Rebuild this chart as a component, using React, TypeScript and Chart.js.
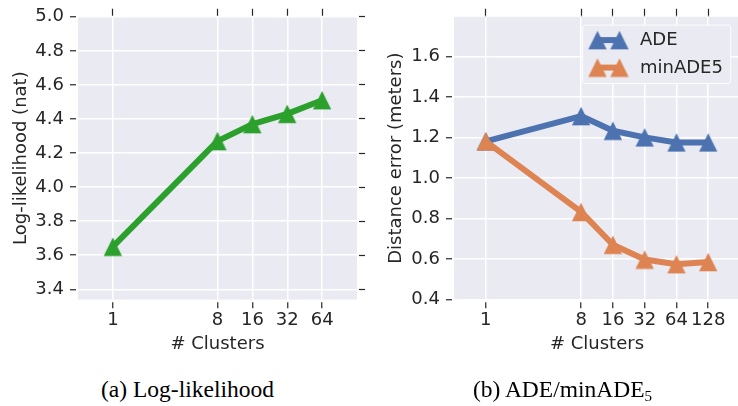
import React, { useEffect, useRef } from 'react';
import { Chart, registerables } from 'chart.js';

Chart.register(...registerables);

// ---------- data ----------
const llClusters = [1, 8, 16, 32, 64];
const llValues = [3.65, 4.27, 4.37, 4.43, 4.51];
const llYTicks = [3.4, 3.6, 3.8, 4.0, 4.2, 4.4, 4.6, 4.8, 5.0];

const errClusters = [1, 8, 16, 32, 64, 128];
const adeValues = [1.18, 1.305, 1.233, 1.2, 1.175, 1.175];
const minAde5Values = [1.18, 0.832, 0.67, 0.597, 0.574, 0.585];
const errYTicks = [0.4, 0.6, 0.8, 1.0, 1.2, 1.4, 1.6];

const seriesLabels = ['ADE', 'minADE5'];

// ---------- style ----------
const FONT = "'DejaVu Sans', sans-serif";
const TEXT = '#262626';
const BG = '#eaeaf2';
const GREEN = '#2ca02c';
const BLUE = '#4c72b0';
const ORANGE = '#dd8452';
const FS = 18;

function makeTriangle(color: string, size = 18.3) {
  const c = document.createElement('canvas');
  const n = 20;
  c.width = n;
  c.height = n;
  const g = c.getContext('2d')!;
  const h = size / 2;
  const m = n / 2;
  g.fillStyle = color;
  g.beginPath();
  g.moveTo(m, m - h);
  g.lineTo(m - h, m + h);
  g.lineTo(m + h, m + h);
  g.closePath();
  g.fill();
  return c;
}

const bgPlugin = {
  id: 'bgArea',
  beforeDraw(chart: any) {
    const { ctx, chartArea: a } = chart;
    ctx.save();
    ctx.fillStyle = BG;
    ctx.fillRect(a.left, a.top, a.right - a.left, a.bottom - a.top);
    ctx.restore();
  },
};

const legendPlugin = {
  id: 'boxLegend',
  afterDatasetsDraw(chart: any) {
    const { ctx, chartArea: a } = chart;
    const w = 148;
    const h = 58.4;
    const x0 = a.right - 9.3 - w;
    const y0 = a.top + 8.3;
    ctx.save();
    ctx.beginPath();
    (ctx as any).roundRect(x0, y0, w, h, 3);
    ctx.fillStyle = BG;
    ctx.fill();
    ctx.strokeStyle = 'rgba(255,255,255,0.85)';
    ctx.lineWidth = 1;
    ctx.stroke();
    const order = [1, 0]; // ADE first, minADE5 second
    order.forEach((di, i) => {
      const ds = chart.data.datasets[di];
      const yc = y0 + 15 + i * 27.5;
      const xa = x0 + 14.8;
      const xb = x0 + 36.8;
      ctx.strokeStyle = ds.borderColor;
      ctx.lineWidth = 6;
      ctx.beginPath();
      ctx.moveTo(xa, yc);
      ctx.lineTo(xb, yc);
      ctx.stroke();
      const img = ds.pointStyle as HTMLCanvasElement;
      ctx.drawImage(img, xa - img.width / 2, yc - img.height / 2);
      ctx.drawImage(img, xb - img.width / 2, yc - img.height / 2);
      ctx.fillStyle = TEXT;
      ctx.font = `${FS}px ${FONT}`;
      ctx.textBaseline = 'middle';
      ctx.textAlign = 'left';
      ctx.fillText(ds.label, x0 + 57.3, yc + 0.7);
    });
    ctx.restore();
  },
};

function xScales(ticksArr: number[], max: number, bottomH: number) {
  const setTicks = (s: any) => {
    s.ticks = ticksArr.map((v) => ({ value: v }));
  };
  return {
    x: {
      type: 'logarithmic',
      position: 'bottom',
      min: 0.5,
      max,
      afterBuildTicks: setTicks,
      afterFit: (s: any) => {
        s.height = bottomH;
      },
      ticks: {
        callback: (v: any) => String(v),
        color: TEXT,
        font: { family: FONT, size: FS },
        padding: 1,
        maxRotation: 0,
        autoSkip: false,
      },
      grid: {
        color: '#ffffff',
        lineWidth: 1.5,
        drawTicks: true,
        tickLength: 8.8,
        tickColor: TEXT,
        tickWidth: 1.2,
        tickBorderDash: [6.6, 2.2],
        tickBorderDashOffset: 6.6,
      },
      border: { display: false },
      title: {
        display: true,
        text: '# Clusters',
        color: TEXT,
        font: { family: FONT, size: FS },
        padding: { top: 0, bottom: 5 },
      },
    },
    x2: {
      type: 'logarithmic',
      position: 'top',
      min: 0.5,
      max,
      afterBuildTicks: setTicks,
      afterFit: (s: any) => {
        s.height = 15;
      },
      ticks: { display: false },
      grid: {
        drawOnChartArea: false,
        drawTicks: true,
        tickLength: 8,
        tickColor: TEXT,
        tickWidth: 1.2,
        tickBorderDash: [7, 1],
        tickBorderDashOffset: 0,
      },
      border: { display: false },
    },
  };
}

function yScales(ticksArr: number[], min: number, max: number, leftW: number, rightW: number, title: string, titlePad: number) {
  const setTicks = (s: any) => {
    s.ticks = ticksArr.map((v) => ({ value: v }));
  };
  return {
    y: {
      type: 'linear',
      position: 'left',
      min,
      max,
      afterBuildTicks: setTicks,
      afterFit: (s: any) => {
        s.width = leftW;
      },
      ticks: {
        callback: (v: any) => Number(v).toFixed(1),
        color: TEXT,
        font: { family: FONT, size: FS },
        padding: 6,
        autoSkip: false,
      },
      grid: {
        color: '#ffffff',
        lineWidth: 1.5,
        drawTicks: true,
        tickLength: 8,
        tickColor: TEXT,
        tickWidth: 1.2,
        tickBorderDash: [6, 2],
        tickBorderDashOffset: 0,
      },
      border: { display: false },
      title: {
        display: true,
        text: title,
        color: TEXT,
        font: { family: FONT, size: FS },
        padding: { top: titlePad, bottom: 0 },
      },
    },
    y2: {
      type: 'linear',
      position: 'right',
      min,
      max,
      afterBuildTicks: setTicks,
      afterFit: (s: any) => {
        s.width = rightW;
      },
      ticks: { display: false },
      grid: {
        drawOnChartArea: false,
        drawTicks: true,
        tickLength: 8,
        tickColor: TEXT,
        tickWidth: 1.2,
        tickBorderDash: [6, 2],
        tickBorderDashOffset: 6,
      },
      border: { display: false },
    },
  };
}

export default function App() {
  const leftRef = useRef<HTMLCanvasElement>(null);
  const rightRef = useRef<HTMLCanvasElement>(null);

  useEffect(() => {
    const greenTri = makeTriangle(GREEN);
    const blueTri = makeTriangle(BLUE);
    const orangeTri = makeTriangle(ORANGE);

    const left = new Chart(leftRef.current!, {
      type: 'line',
      data: {
        datasets: [
          {
            label: 'Log-likelihood',
            data: llClusters.map((c, i) => ({ x: c, y: llValues[i] })),
            borderColor: GREEN,
            backgroundColor: GREEN,
            borderWidth: 6,
            borderJoinStyle: 'round',
            borderCapStyle: 'round',
            tension: 0,
            pointStyle: greenTri as any,
            pointRadius: 9,
            pointHoverRadius: 9,
            clip: false as any,
          },
        ],
      },
      options: {
        responsive: false,
        animation: false,
        devicePixelRatio: 1,
        events: [],
        layout: { padding: 0 },
        plugins: { legend: { display: false }, tooltip: { enabled: false } },
        scales: {
          ...xScales(llClusters, 128, 60.5),
          ...yScales(llYTicks, 3.34, 5.0, 78, 9, 'Log-likelihood (nat)', 10.5),
        } as any,
      },
      plugins: [bgPlugin],
    } as any);

    const right = new Chart(rightRef.current!, {
      type: 'line',
      data: {
        datasets: [
          {
            label: seriesLabels[1],
            data: errClusters.map((c, i) => ({ x: c, y: minAde5Values[i] })),
            borderColor: ORANGE,
            backgroundColor: ORANGE,
            borderWidth: 6,
            borderJoinStyle: 'round',
            borderCapStyle: 'round',
            tension: 0,
            pointStyle: orangeTri as any,
            pointRadius: 9,
            pointHoverRadius: 9,
            clip: false as any,
          },
          {
            label: seriesLabels[0],
            data: errClusters.map((c, i) => ({ x: c, y: adeValues[i] })),
            borderColor: BLUE,
            backgroundColor: BLUE,
            borderWidth: 6,
            borderJoinStyle: 'round',
            borderCapStyle: 'round',
            tension: 0,
            pointStyle: blueTri as any,
            pointRadius: 9,
            pointHoverRadius: 9,
            clip: false as any,
          },
        ],
      },
      options: {
        responsive: false,
        animation: false,
        devicePixelRatio: 1,
        events: [],
        layout: { padding: 0 },
        plugins: { legend: { display: false }, tooltip: { enabled: false } },
        scales: {
          ...xScales(errClusters, 256, 60.5),
          ...yScales(errYTicks, 0.4, 1.795, 84, 20, 'Distance error (meters)', 15.5),
        } as any,
      },
      plugins: [bgPlugin, legendPlugin],
    } as any);

    return () => {
      left.destroy();
      right.destroy();
    };
  }, []);

  const capStyle: React.CSSProperties = {
    position: 'absolute',
    top: 378.3,
    width: 375,
    textAlign: 'center',
    fontFamily: "'Liberation Serif', 'Times New Roman', serif",
    fontSize: '23.5px',
    lineHeight: '23.5px',
    color: '#000',
    whiteSpace: 'nowrap',
  };

  return (
    <div
      style={{
        position: 'fixed',
        left: 0,
        top: 0,
        width: 738,
        height: 406,
        overflow: 'hidden',
        background: '#ffffff',
      }}
    >
      <canvas
        ref={leftRef}
        width={372}
        height={360}
        style={{ position: 'absolute', left: 0, top: 0, width: 372, height: 360 }}
      />
      <canvas
        ref={rightRef}
        width={390}
        height={360}
        style={{ position: 'absolute', left: 370, top: 0, width: 390, height: 360 }}
      />
      <div style={{ ...capStyle, left: 0 }}>(a) Log-likelihood</div>
      <div style={{ ...capStyle, left: 375 }}>
        (b) ADE/minADE
        <span style={{ fontSize: '15px', verticalAlign: '-3.7px', lineHeight: '1' }}>5</span>
      </div>
    </div>
  );
}
